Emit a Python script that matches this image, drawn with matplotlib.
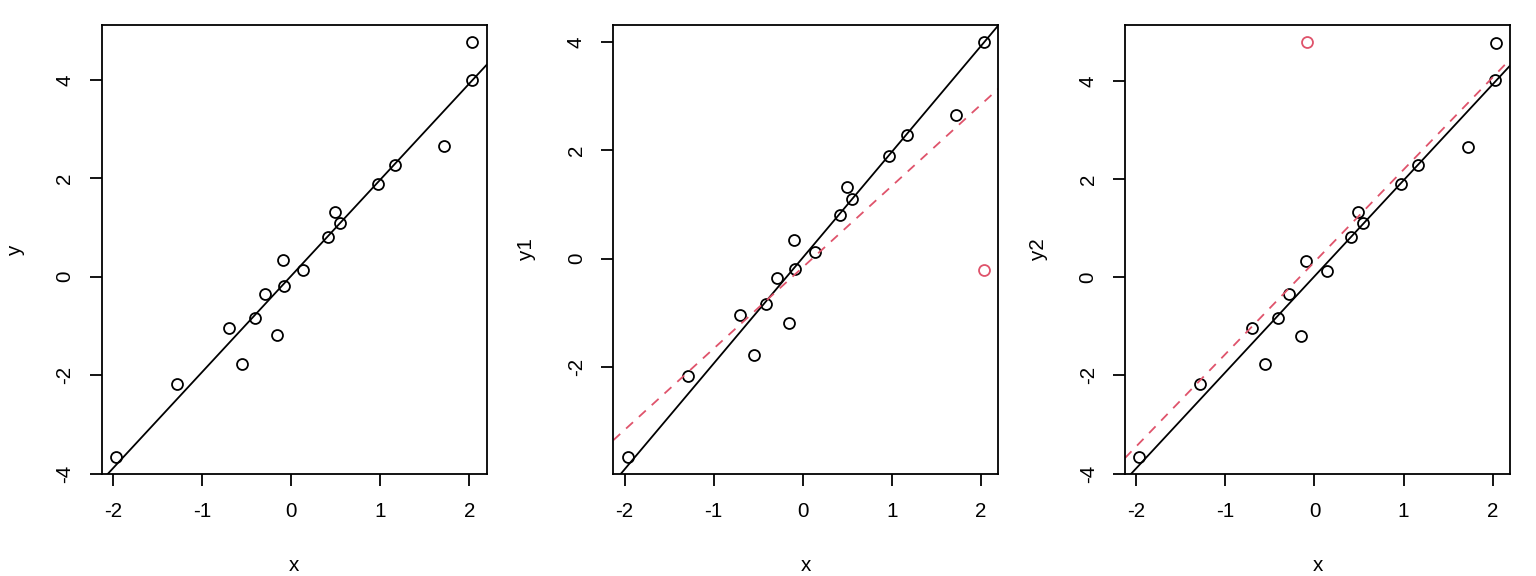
import matplotlib
matplotlib.use("Agg")
import matplotlib.pyplot as plt
import numpy as np

# ------------------------------
# DATA
# ------------------------------
x = [-1.966, -1.286, -0.700, -0.550, -0.409, -0.289, -0.155, -0.095, -0.084,
     0.137, 0.413, 0.492, 0.548, 0.969, 1.164, 1.720, 2.030, 2.034]
y = [-3.67, -2.17, -1.04, -1.77, -0.83, -0.35, -1.19, 0.34, -0.19,
     0.13, 0.81, 1.32, 1.10, 1.89, 2.28, 2.66, 4.01, 4.78]

# y1: last point moved down, y2: one point moved up
y1 = y[:17] + [-0.21]
y2 = y[:8] + [4.80] + y[9:]
OUTLIER_1 = 17
OUTLIER_2 = 8

X_TICKS = [-2, -1, 0, 1, 2]
Y_TICKS = [-4, -2, 0, 2, 4]

RED = "#DF536B"
FONT = 15.5
LW = 1.35

plt.rcParams['font.family'] = ['Liberation Sans', 'DejaVu Sans']
plt.rcParams['lines.scale_dashes'] = False

fig = plt.figure(figsize=(16, 6), dpi=96)
W, H = 1536, 576

panels = [
    (101.7, "y", y, None),
    (613.3, "y1", y1, OUTLIER_1),
    (1125.0, "y2", y2, OUTLIER_2),
]


def r_lim(v):
    # R's default 4% axis padding
    lo, hi = min(v), max(v)
    d = (hi - lo) * 0.04
    return lo - d, hi + d


# black fit: original data
m0, b0 = np.polyfit(x, y, 1)

for left, ylab, yy, out in panels:
    ax = fig.add_axes([left / W, (576 - 474) / H, 385 / W, 449 / H])
    xa = np.array(x)
    ya = np.array(yy)
    black = np.ones(len(xa), bool)
    if out is not None:
        black[out] = False
    ax.plot(xa[black], ya[black], 'o', mfc='none', mec='black', ms=8.2, mew=LW)
    if out is not None:
        ax.plot(xa[~black], ya[~black], 'o', mfc='none', mec=RED, ms=8.2, mew=LW)

    ax.axline((0, b0), slope=m0, color='black', lw=LW)
    if out is not None:
        m1, b1 = np.polyfit(x, yy, 1)
        ax.axline((0, b1), slope=m1, color=RED, lw=LW, dashes=(7, 6))

    xl = r_lim(x)
    yl = r_lim(yy)
    ax.set_xlim(xl)
    ax.set_ylim(yl)
    ax.set_xticks([t for t in X_TICKS if xl[0] <= t <= xl[1]])
    ax.set_yticks([t for t in Y_TICKS if yl[0] <= t <= yl[1]])
    ax.set_xticklabels([str(t) for t in ax.get_xticks().astype(int)])
    ax.set_yticklabels([str(t) for t in ax.get_yticks().astype(int)])

    for s in ax.spines.values():
        s.set_linewidth(LW)
    ax.tick_params(direction='out', length=9, width=LW, labelsize=FONT)
    ax.tick_params(axis='x', pad=12)
    ax.tick_params(axis='y', pad=11.5, labelrotation=90)
    for lab in ax.get_yticklabels():
        lab.set_va('center')
        lab.set_ha('right')

    ax.set_xlabel("x", fontsize=FONT)
    ax.set_ylabel(ylab, fontsize=FONT)
    ax.xaxis.set_label_coords(0.5, -0.2027)
    ax.yaxis.set_label_coords(-0.225, 0.5)
    ax.xaxis.label.set_va('center')
    ax.yaxis.label.set_va('center')

fig.savefig("out.png", dpi=96)
